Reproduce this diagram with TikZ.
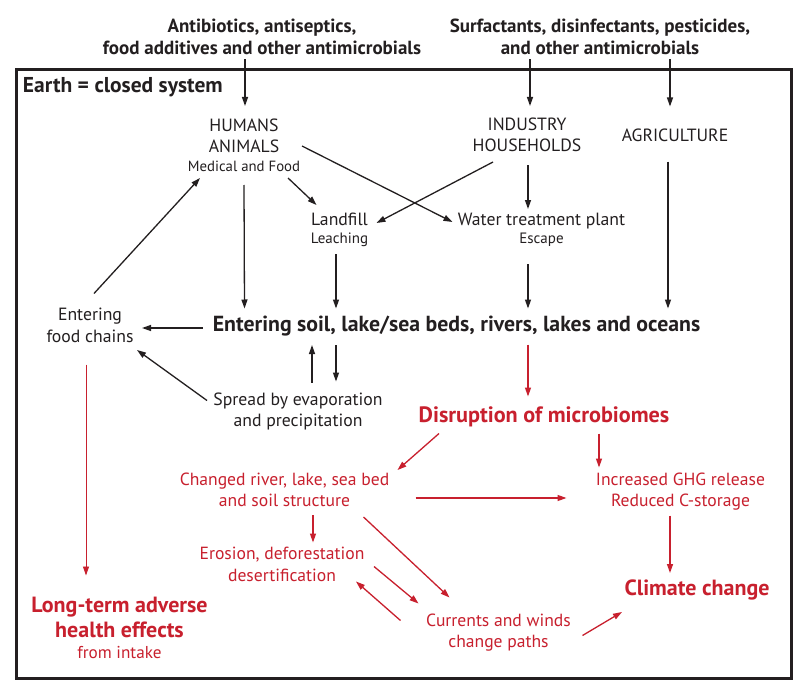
\documentclass[tikz,border=0pt]{standalone}
\usepackage{fontspec}
\setmainfont{PT Sans}
\usetikzlibrary{arrows.meta,calc}
\definecolor{dred}{RGB}{200,32,46}
\definecolor{ink}{RGB}{35,31,32}
\begin{document}
\begin{tikzpicture}[x=1pt,y=-1pt,
  every node/.style={inner sep=0pt,outer sep=0pt,align=center,text=ink},
  txt/.style={font=\fontsize{17.7}{21.5}\selectfont},
  rtxt/.style={font=\fontsize{17.6}{21.5}\selectfont,text=dred},
  ttl/.style={font=\bfseries\fontsize{19}{22}\selectfont},
  bigb/.style={font=\bfseries\fontsize{21.8}{24}\selectfont},
  rbig/.style={font=\bfseries\fontsize{22.2}{24}\selectfont,text=dred},
  rcond/.style={font=\bfseries\fontsize{22}{25}\selectfont,text=dred},
  arr/.style={draw=ink,line width=1.3pt,-{Triangle[length=9pt,width=6pt]}},
  rarr/.style={draw=dred,line width=1.3pt,-{Triangle[length=9pt,width=6pt]}},
  rarrthin/.style={draw=dred,line width=0.9pt,-{Triangle[length=9pt,width=6pt]}}]
\useasboundingbox (0,0) rectangle (812,693);
\fill[white] (0,0) rectangle (812,693);
\draw[ink,line width=3pt] (16,70) rectangle (791,678);

\node[ttl] (anti) at (262,36.5) {Antibiotics, antiseptics,\\food additives and other antimicrobials};
\node[ttl] (surf) at (600,36.5) {Surfactants, disinfectants, pesticides,\\and other antimicrobials};
\node[font=\bfseries\fontsize{21.5}{24}\selectfont,anchor=west] (earth) at (23,87.5) {Earth = closed system};

\node[txt] (humans) at (244,145) {HUMANS\\ANIMALS\\[-3pt]{\fontsize{14.8}{18}\selectfont Medical and Food}};
\node[txt] (industry) at (527,135) {INDUSTRY\\HOUSEHOLDS};
\node[txt] (agri) at (675,135.5) {AGRICULTURE};
\node[txt] (landfill) at (339.5,230) {Landfill\\[-4pt]{\fontsize{15}{18}\selectfont Leaching}};
\node[txt] (wtp) at (541.5,230) {Water treatment plant\\[-4pt]{\fontsize{15}{18}\selectfont Escape}};
\node[txt] (foodchain) at (90,325.5) {Entering\\food chains};
\node[bigb] (soil) at (456.5,326.5) {Entering soil, lake/sea beds, rivers, lakes and oceans};
\node[txt] (spread) at (298,411.5) {Spread by evaporation\\and precipitation};
\node[rbig] (disrupt) at (544,416.5) {Disruption of microbiomes};
\node[rtxt] (changed) at (284.5,490) {Changed river, lake, sea bed\\and soil structure};
\node[rtxt] (ghg) at (680.5,491.5) {Increased GHG release\\Reduced C-storage};
\node[rtxt] (erosion) at (282,564.5) {Erosion, deforestation\\desertification};
\node[rcond] (climate) at (697,590) {Climate change};
\node[rcond] (longterm) at (119.5,627.5) {Long-term adverse\\health effects\\[-4pt]{\normalfont\fontsize{17.2}{19}\selectfont from intake}};
\node[rtxt] (currents) at (498.5,632.5) {Currents and winds\\change paths};

% black arrows
\draw[arr] ($(anti)+(-17,23)$) -- ($(humans)+(1,-39)$);
\draw[arr] ($(surf)+(-70,23)$) -- ($(industry)+(3,-29)$);
\draw[arr] ($(surf)+(70,23)$) -- ($(agri)+(-5,-29)$);
\draw[arr] ($(foodchain)+(4,-32)$) -- ($(humans)+(-44,33)$);
\draw[arr] ($(humans)+(0,40)$) -- ($(soil)+(-212,-18)$);
\draw[arr] ($(humans)+(44,33)$) -- ($(landfill)+(-23,-25)$);
\draw[arr] ($(humans)+(58,1)$) -- ($(wtp)+(-89,-8)$);
\draw[arr] ($(industry)+(-34,27)$) -- ($(landfill)+(37,-7)$);
\draw[arr] ($(industry)+(1,30)$) -- ($(wtp)+(-13.5,-21)$);
\draw[arr] ($(landfill)+(-3.5,24)$) -- ($(soil)+(-120.5,-18)$);
\draw[arr] ($(wtp)+(-13.5,34)$) -- ($(soil)+(71.5,-18)$);
\draw[arr] ($(agri)+(-7,26)$) -- ($(soil)+(211.5,-18)$);
\draw[arr] ($(soil)+(-254,1.5)$) -- ($(foodchain)+(52,2.5)$);
\draw[arr] ($(spread)+(14,-29)$) -- ($(soil)+(-144.5,18.5)$);
\draw[arr] ($(soil)+(-120.5,18.5)$) -- ($(spread)+(38,-30)$);
\draw[arr] ($(spread)+(-91,-11)$) -- ($(foodchain)+(47,24.5)$);
% red arrows
\draw[rarr] ($(soil)+(71.5,18)$) -- ($(disrupt)+(-16,-20)$);
\draw[rarr] ($(disrupt)+(-105,17)$) -- ($(changed)+(113,-20)$);
\draw[rarr] ($(disrupt)+(55,17)$) -- ($(ghg)+(-81.5,-24)$);
\draw[rarr] ($(changed)+(131,8)$) -- ($(ghg)+(-114,6.5)$);
\draw[rarr] ($(changed)+(28.5,25)$) -- ($(erosion)+(31,-22)$);
\draw[rarr] ($(changed)+(79,27)$) -- ($(currents)+(-49,-35)$);
\draw[rarr] ($(erosion)+(92,2)$) -- ($(currents)+(-80,-29)$);
\draw[rarr] ($(currents)+(-98,-12)$) -- ($(erosion)+(74,17)$);
\draw[rarr] ($(currents)+(84,3)$) -- ($(climate)+(-75,22)$);
\draw[rarr] ($(ghg)+(-10.5,24)$) -- ($(climate)+(-27,-17)$);
\draw[rarrthin] ($(foodchain)+(-4,39)$) -- ($(longterm)+(-33.5,-52)$);
\end{tikzpicture}
\end{document}
